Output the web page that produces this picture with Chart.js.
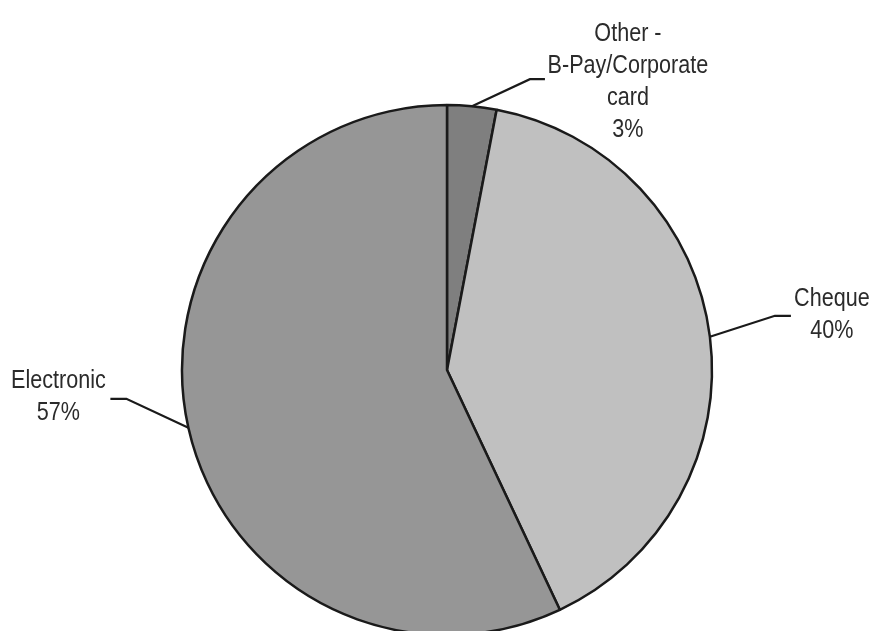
<!DOCTYPE html>
<html>
<head>
<meta charset="utf-8">
<script src="https://cdn.jsdelivr.net/npm/chart.js@4"></script>
<style>
  html, body { margin: 0; padding: 0; background: #ffffff; }
  #wrap { width: 874px; height: 631px; position: relative; }
</style>
</head>
<body>
<div id="wrap"><canvas id="c" width="874" height="631"></canvas></div>
<script>
// ---- data ----
const categories = ["Other -\nB-Pay/Corporate\ncard", "Cheque", "Electronic"];
const values = [3, 40, 57];
const percentLabels = ["3%", "40%", "57%"];

// ---- styles ----
const sliceColors = ["#7f7f7f", "#c0c0c0", "#969696"];
// label placement relative to the slice's edge point (leader elbow, first text baseline)
const labelStyle = [
  { elbow: [58, -27], tail: 15, text: [156, -65.5] },
  { elbow: [65, -21], tail: 16, text: [122, -30.5] },
  { elbow: [-62, -29], tail: -16, text: [-130, -40] }
];
const FONT = "26px 'Liberation Sans Narrow', 'Arial Narrow', 'Liberation Sans', Arial, sans-serif";
const NARROW = 0.83;
const LINE_H = 32;

const leaderPlugin = {
  id: 'leaders',
  afterDatasetsDraw(chart) {
    const ctx = chart.ctx;
    const meta = chart.getDatasetMeta(0);
    ctx.save();
    meta.data.forEach((arc, i) => {
      const p = arc.getProps(['x', 'y', 'startAngle', 'endAngle', 'outerRadius'], true);
      const mid = (p.startAngle + p.endAngle) / 2;
      const ex = p.x + Math.cos(mid) * p.outerRadius;
      const ey = p.y + Math.sin(mid) * p.outerRadius;
      const st = labelStyle[i];
      const bx = ex + st.elbow[0], by = ey + st.elbow[1];
      ctx.beginPath();
      ctx.strokeStyle = '#1a1a1a';
      ctx.lineWidth = 2.2;
      ctx.lineJoin = 'miter';
      ctx.moveTo(ex, ey);
      ctx.lineTo(bx, by);
      ctx.lineTo(bx + st.tail, by);
      ctx.stroke();
      const lines = categories[i].split('\n').concat([percentLabels[i]]);
      const tx = ex + st.text[0];
      const ty = ey + st.text[1];
      ctx.font = FONT;
      ctx.fillStyle = '#2b2b2b';
      ctx.textAlign = 'center';
      ctx.textBaseline = 'alphabetic';
      lines.forEach((ln, k) => {
        ctx.save();
        ctx.translate(tx, ty + k * LINE_H);
        ctx.scale(NARROW, 1);
        ctx.fillText(ln, 0, 0);
        ctx.restore();
      });
    });
    ctx.restore();
  }
};

new Chart(document.getElementById('c'), {
  type: 'pie',
  data: {
    labels: categories,
    datasets: [{
      data: values,
      backgroundColor: sliceColors,
      borderColor: '#1a1a1a',
      borderWidth: 2.5,
      clip: false
    }]
  },
  options: {
    responsive: false,
    animation: false,
    radius: 265,
    layout: { padding: { left: 20, right: 0, top: 109, bottom: 0 } },
    plugins: {
      legend: { display: false },
      tooltip: { enabled: false },
      title: { display: false }
    }
  },
  plugins: [leaderPlugin]
});
</script>
</body>
</html>
